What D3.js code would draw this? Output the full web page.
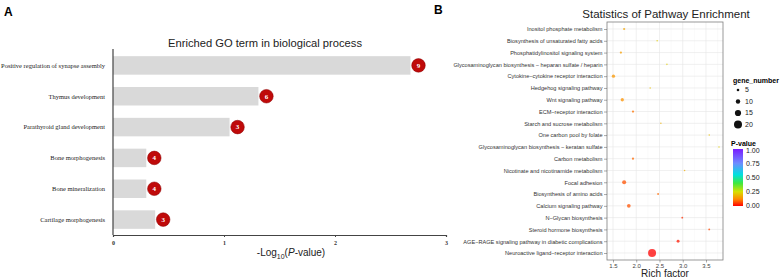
<!DOCTYPE html>
<html>
<head>
<meta charset="utf-8">
<script src="https://cdn.jsdelivr.net/npm/d3@7"></script>
<style>
  body { margin: 0; background: #fff; }
  svg { display: block; }
</style>
</head>
<body>
<div id="chart"></div>
<script>
// Panel A data: GO terms, -log10(P) and gene counts
var goTerms = ["Positive regulation of synapse assembly", "Thymus development", "Parathyroid gland development",
  "Bone morphogenesis", "Bone mineralization", "Cartilage morphogenesis"];
var goLogP = [2.68, 1.31, 1.05, 0.30, 0.30, 0.38];
var goCounts = [9, 6, 3, 4, 4, 3];
var goTicks = [0, 1, 2, 3];

// Panel B data: KEGG pathways, rich factor, gene number, p-value
var pathways = ["Inositol phosphate metabolism", "Biosynthesis of unsaturated fatty acids",
  "Phosphatidylinositol signaling system", "Glycosaminoglycan biosynthesis \u2212 heparan sulfate / heparin",
  "Cytokine\u2212cytokine receptor interaction", "Hedgehog signaling pathway", "Wnt signaling pathway",
  "ECM\u2212receptor interaction", "Starch and sucrose metabolism", "One carbon pool by folate",
  "Glycosaminoglycan biosynthesis \u2212 keratan sulfate", "Carbon metabolism",
  "Nicotinate and nicotinamide metabolism", "Focal adhesion", "Biosynthesis of amino acids",
  "Calcium signaling pathway", "N\u2212Glycan biosynthesis", "Steroid hormone biosynthesis",
  "AGE\u2212RAGE signaling pathway in diabetic complications", "Neuroactive ligand\u2212receptor interaction"];
var richFactor = [1.74, 2.45, 1.67, 2.66, 1.51, 2.30, 1.70, 1.93, 2.53, 3.57,
  3.78, 1.93, 3.04, 1.74, 2.47, 1.84, 2.99, 3.57, 2.90, 2.34];
var geneNumber = [4, 2, 4, 2, 7, 2, 7, 4, 2, 2, 2, 4, 2, 9, 3, 8, 3, 3, 6, 20];
var pValue = [0.16, 0.22, 0.15, 0.22, 0.14, 0.2, 0.13, 0.1, 0.18, 0.2,
  0.22, 0.09, 0.17, 0.07, 0.09, 0.07, 0.04, 0.06, 0.02, 0.001];
var richTicks = [1.5, 2.0, 2.5, 3.0, 3.5];
var sizeBreaks = [5, 10, 15, 20];
var pBreaks = [0, 0.25, 0.5, 0.75, 1];

var svg = d3.select("#chart").append("svg")
  .attr("width", 784).attr("height", 279);

// ---------- Panel A ----------
svg.append("text").attr("x", 4).attr("y", 16)
  .style("font", "bold 12px Arial, 'Liberation Sans', sans-serif").text("A");

var xA = d3.scaleLinear().domain([0, 3]).range([113, 446]);
var yA = d3.scaleBand().domain(goTerms).range([50, 235]).paddingInner(0.4).paddingOuter(0.2);

svg.append("text").attr("x", 265).attr("y", 47).attr("text-anchor", "middle")
  .style("font", "11.2px Arial, 'Liberation Sans', sans-serif").style("fill", "#222")
  .text("Enriched GO term in biological process");

svg.selectAll(".bar").data(goTerms).enter().append("rect")
  .attr("x", xA(0))
  .attr("y", function(d) { return yA(d); })
  .attr("width", function(d, i) { return xA(goLogP[i]) - xA(0); })
  .attr("height", yA.bandwidth())
  .attr("fill", "#d9d9d9");

svg.selectAll(".lab").data(goTerms).enter().append("text")
  .attr("x", 105)
  .attr("y", function(d) { return yA(d) + yA.bandwidth() / 2 + 2.3; })
  .attr("text-anchor", "end")
  .style("font", "6.5px 'Liberation Serif', 'Times New Roman', serif").style("fill", "#222")
  .text(function(d) { return d; });

var badge = svg.selectAll(".badge").data(goTerms).enter().append("g")
  .attr("transform", function(d, i) {
    return "translate(" + (xA(goLogP[i]) + 8) + "," + (yA(d) + yA.bandwidth() / 2) + ")";
  });
badge.append("circle").attr("r", 6.8).attr("fill", "#bf0a0a").attr("stroke", "#8a0000").attr("stroke-width", 0.5);
badge.append("text").attr("y", 2.4).attr("text-anchor", "middle")
  .style("font", "bold 7px 'Liberation Serif', serif").style("fill", "#fff")
  .text(function(d, i) { return goCounts[i]; });

// axes
var axA = svg.append("g").attr("transform", "translate(0,235)")
  .call(d3.axisBottom(xA).tickValues(goTicks).tickSize(2).tickFormat(d3.format("d")));
axA.select(".domain").attr("stroke", "#444").attr("stroke-width", 1.2);
axA.selectAll(".tick line").attr("stroke", "#444");
axA.selectAll("text").attr("dy", "0.9em")
  .style("font", "bold 6px 'Liberation Serif', serif").style("fill", "#333");
svg.append("line").attr("x1", 113).attr("x2", 113).attr("y1", 49).attr("y2", 235)
  .attr("stroke", "#444").attr("stroke-width", 1.2);

var xtA = svg.append("text").attr("x", 291).attr("y", 256).attr("text-anchor", "middle")
  .style("font", "10px Arial, 'Liberation Sans', sans-serif").style("fill", "#222");
xtA.append("tspan").text("-Log");
xtA.append("tspan").attr("dy", 2.5).style("font-size", "7px").text("10");
xtA.append("tspan").attr("dy", -2.5).text("(");
xtA.append("tspan").style("font-style", "italic").text("P");
xtA.append("tspan").text("-value)");

// ---------- Panel B ----------
svg.append("text").attr("x", 434).attr("y", 14)
  .style("font", "bold 12px Arial, 'Liberation Sans', sans-serif").text("B");
svg.append("text").attr("x", 666).attr("y", 18).attr("text-anchor", "middle")
  .style("font", "11.5px Arial, 'Liberation Sans', sans-serif").style("fill", "#222")
  .text("Statistics of Pathway Enrichment");

var xB = d3.scaleLinear().domain([1.371, 3.866]).range([607, 723]);
var yB = d3.scalePoint().domain(pathways).range([29, 253]);
var rB = d3.scaleLinear().domain([0, 20]).range([0.4, 4]);
var colorB = d3.scaleLinear()
  .domain([0, 0.12, 0.25, 0.4, 0.55, 0.75, 1])
  .range(["#ff0000", "#ff8a00", "#d8e000", "#3ee83e", "#00e0e0", "#6e8cff", "#7a1cff"]);

var panel = svg.append("g");
panel.append("rect").attr("x", 607).attr("y", 22).attr("width", 116).attr("height", 238)
  .attr("fill", "#fff");
// minor grid
d3.range(1.75, 3.8, 0.5).forEach(function(v) {
  panel.append("line").attr("x1", xB(v)).attr("x2", xB(v)).attr("y1", 22).attr("y2", 260)
    .attr("stroke", "#f4f4f4").attr("stroke-width", 0.5);
});
panel.selectAll(".gx").data(richTicks).enter().append("line")
  .attr("x1", function(d) { return xB(d); }).attr("x2", function(d) { return xB(d); })
  .attr("y1", 22).attr("y2", 260).attr("stroke", "#e6e6e6").attr("stroke-width", 0.6);
panel.selectAll(".gy").data(pathways).enter().append("line")
  .attr("x1", 607).attr("x2", 723)
  .attr("y1", function(d) { return yB(d); }).attr("y2", function(d) { return yB(d); })
  .attr("stroke", "#e6e6e6").attr("stroke-width", 0.6);
panel.append("rect").attr("x", 607).attr("y", 22).attr("width", 116).attr("height", 238)
  .attr("fill", "none").attr("stroke", "#7f7f7f").attr("stroke-width", 0.8);

var order = d3.range(pathways.length).sort(function(a, b) { return geneNumber[b] - geneNumber[a]; });
panel.selectAll(".pt").data(order).enter().append("circle")
  .attr("cx", function(i) { return xB(richFactor[i]); })
  .attr("cy", function(i) { return yB(pathways[i]); })
  .attr("r", function(i) { return rB(geneNumber[i]); })
  .attr("fill", function(i) { return colorB(pValue[i]); })
  .attr("fill-opacity", 0.75);

var ayB = svg.append("g").attr("transform", "translate(607,0)")
  .call(d3.axisLeft(yB).tickSize(3).tickPadding(1.5));
ayB.select(".domain").remove();
ayB.selectAll(".tick line").attr("stroke", "#555").attr("stroke-width", 0.5);
ayB.selectAll("text").style("font", "5.6px Arial, 'Liberation Sans', sans-serif").style("fill", "#333");

var axB = svg.append("g").attr("transform", "translate(0,260)")
  .call(d3.axisBottom(xB).tickValues(richTicks).tickSize(2.5).tickPadding(1.5).tickFormat(d3.format(".1f")));
axB.select(".domain").remove();
axB.selectAll(".tick line").attr("stroke", "#555").attr("stroke-width", 0.5);
axB.selectAll("text").style("font", "6px Arial, 'Liberation Sans', sans-serif").style("fill", "#444");

svg.append("text").attr("x", 665).attr("y", 277).attr("text-anchor", "middle")
  .style("font", "10px Arial, 'Liberation Sans', sans-serif").style("fill", "#222").text("Rich factor");

// size legend
svg.append("text").attr("x", 733).attr("y", 83)
  .style("font", "bold 7px Arial, 'Liberation Sans', sans-serif").text("gene_number");
var sl = svg.selectAll(".sl").data(sizeBreaks).enter().append("g")
  .attr("transform", function(d, i) { return "translate(738," + (90 + i * 11.5) + ")"; });
sl.append("circle").attr("r", function(d) { return rB(d); }).attr("fill", "#111");
sl.append("text").attr("x", 7).attr("y", 2.4)
  .style("font", "7px Arial, 'Liberation Sans', sans-serif").style("fill", "#222")
  .text(function(d) { return d; });

// colour legend
var defs = svg.append("defs");
var grad = defs.append("linearGradient").attr("id", "pgrad")
  .attr("x1", 0).attr("y1", 1).attr("x2", 0).attr("y2", 0);
colorB.domain().forEach(function(v) {
  grad.append("stop").attr("offset", v).attr("stop-color", colorB(v));
});
svg.append("text").attr("x", 731).attr("y", 146)
  .style("font", "bold 7px Arial, 'Liberation Sans', sans-serif").text("P-value");
var pY = d3.scaleLinear().domain([0, 1]).range([205, 150]);
svg.append("rect").attr("x", 733).attr("y", 149).attr("width", 10).attr("height", 57)
  .attr("fill", "url(#pgrad)");
svg.selectAll(".pl").data(pBreaks).enter().append("text")
  .attr("x", 746).attr("y", function(d) { return pY(d) + 2.5; })
  .style("font", "7px Arial, 'Liberation Sans', sans-serif").style("fill", "#222")
  .text(function(d) { return d3.format(".2f")(d); });
</script>
</body>
</html>
